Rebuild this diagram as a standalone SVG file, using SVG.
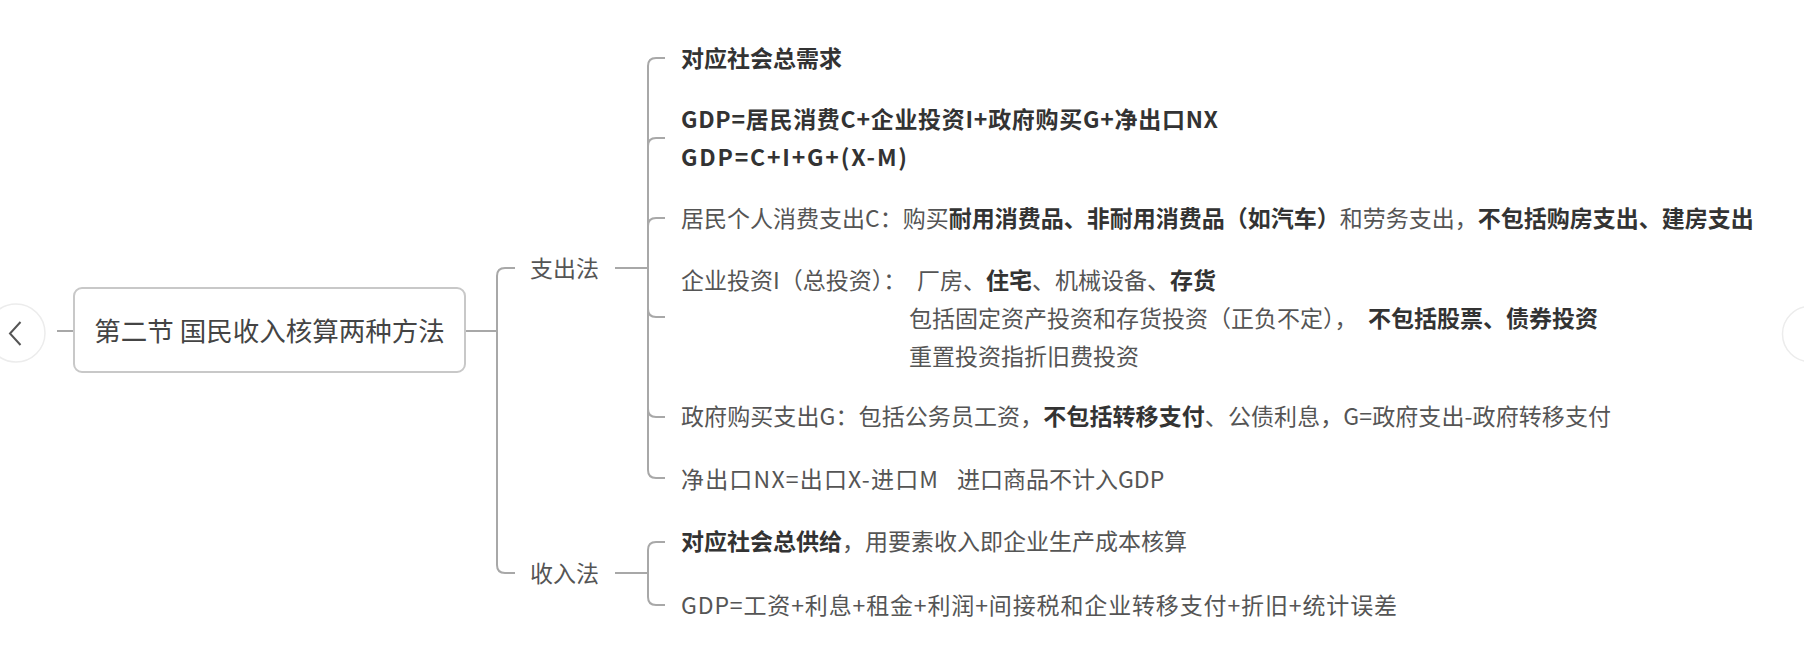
<svg xmlns="http://www.w3.org/2000/svg" width="1804" height="668" viewBox="0 0 1804 668">
<style>
.t{font-family:"Noto Sans CJK SC","Noto Sans",sans-serif;font-size:23px;fill:#555}
.b{font-weight:bold;fill:#333}
.root{font-family:"Noto Sans CJK SC","Noto Sans",sans-serif;font-size:26.5px;fill:#444;text-anchor:middle}
.c{fill:none;stroke:#a8a8a8;stroke-width:2}
</style>
<rect width="1804" height="668" fill="#fff"/>
<g id="nav-left">
<circle cx="16" cy="333" r="29" fill="#fff" stroke="#ececec" stroke-width="1.5"/>
<path d="M20.5 322 L10 333.5 L20.5 345" fill="none" stroke="#555" stroke-width="2"/>
</g>
<g id="nav-right">
<circle cx="1810" cy="334" r="27.5" fill="#fff" stroke="#ececec" stroke-width="1.5"/>
</g>
<g id="connectors">
<path class="c" d="M57 331 H74"/>
<path class="c" d="M465 331 H497"/>
<path class="c" d="M497 331 V276 Q497 268 505 268 H515"/>
<path class="c" d="M497 331 V565 Q497 573 505 573 H515"/>
<path class="c" d="M615 268 H648"/>
<path class="c" d="M648 268 V66 Q648 58 656 58 H665"/>
<path class="c" d="M648 268 V146 Q648 138 656 138 H665"/>
<path class="c" d="M648 268 V226 Q648 218 656 218 H665"/>
<path class="c" d="M648 268 V309 Q648 317 656 317 H665"/>
<path class="c" d="M648 268 V409 Q648 417 656 417 H665"/>
<path class="c" d="M648 268 V470 Q648 478 656 478 H665"/>
<path class="c" d="M615 573 H648"/>
<path class="c" d="M648 573 V550 Q648 542 656 542 H665"/>
<path class="c" d="M648 573 V597 Q648 605 656 605 H665"/>
</g>
<g id="root">
<rect x="74" y="288" width="391" height="84" rx="8" fill="#fff" stroke="#c8c8c8" stroke-width="2"/>
<text class="root" x="269.5" y="341">第二节 国民收入核算两种方法</text>
</g>
<g id="zhichufa"><text class="t" x="530" y="277">支出法</text></g>
<g id="shourufa"><text class="t" x="530" y="582">收入法</text></g>
<g id="n1"><text class="t b" x="681" y="67">对应社会总需求</text></g>
<g id="n2"><text class="t b" x="681" y="128" textLength="537" lengthAdjust="spacing">GDP=居民消费C+企业投资I+政府购买G+净出口NX</text>
<text class="t b" x="681" y="166" textLength="226" lengthAdjust="spacing">GDP=C+I+G+(X-M)</text></g>
<g id="n3"><text class="t" x="681" y="227">居民个人消费支出C：购买<tspan class="b">耐用消费品、非耐用消费品（如汽车）</tspan>和劳务支出，<tspan class="b">不包括购房支出、建房支出</tspan></text></g>
<g id="n4"><text class="t" x="681" y="289">企业投资I（总投资）：<tspan x="917">厂房、</tspan><tspan class="b">住宅</tspan>、机械设备、<tspan class="b">存货</tspan></text>
<text class="t" x="909" y="327">包括固定资产投资和存货投资（正负不定），<tspan class="b" x="1368">不包括股票、债券投资</tspan></text>
<text class="t" x="909" y="365">重置投资指折旧费投资</text></g>
<g id="n5"><text class="t" x="681" y="425" textLength="930" lengthAdjust="spacing">政府购买支出G：包括公务员工资，<tspan class="b">不包括转移支付</tspan>、公债利息，G=政府支出-政府转移支付</text></g>
<g id="n6"><text class="t" x="681" y="488" textLength="257" lengthAdjust="spacing">净出口NX=出口X-进口M</text><text class="t" x="957" y="488">进口商品不计入GDP</text></g>
<g id="n7"><text class="t" x="681" y="550"><tspan class="b">对应社会总供给</tspan>，用要素收入即企业生产成本核算</text></g>
<g id="n8"><text class="t" x="681" y="614" textLength="716" lengthAdjust="spacing">GDP=工资+利息+租金+利润+间接税和企业转移支付+折旧+统计误差</text></g>
</svg>
